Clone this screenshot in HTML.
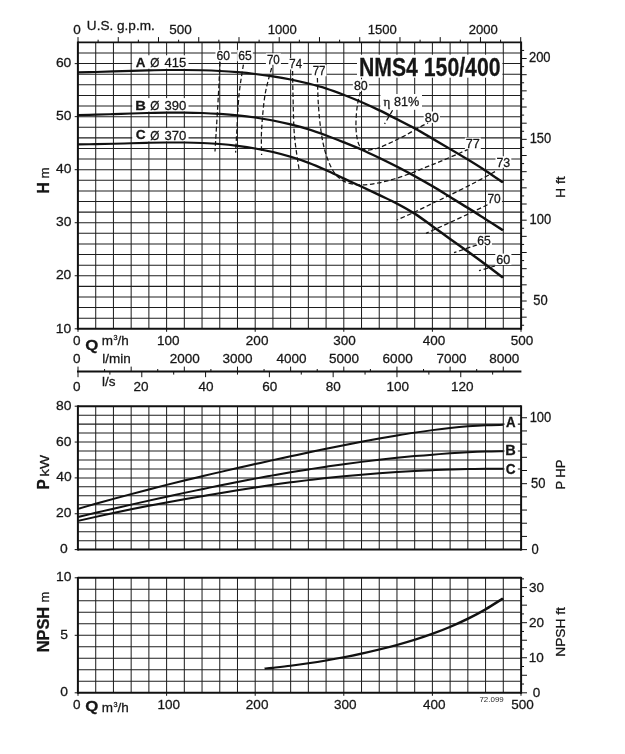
<!DOCTYPE html>
<html lang="en">
<head>
<meta charset="utf-8">
<title>NMS4 150/400</title>
<style>
html,body{margin:0;padding:0;background:#fff;}
body{width:625px;height:754px;overflow:hidden;font-family:"Liberation Sans",sans-serif;}
svg{display:block;font-family:"Liberation Sans",sans-serif;filter:grayscale(1);}
svg text{fill:#161616;stroke:#161616;stroke-width:0.28px;}
</style>
</head>
<body>
<svg width="625" height="754" viewBox="0 0 625 754">
<rect x="0" y="0" width="625" height="754" fill="#ffffff"/>
<line x1="95.72" y1="42.4" x2="95.72" y2="328.8" stroke="#1e1e1e" stroke-width="1.02"/>
<line x1="113.44" y1="42.4" x2="113.44" y2="328.8" stroke="#1e1e1e" stroke-width="1.02"/>
<line x1="131.16" y1="42.4" x2="131.16" y2="328.8" stroke="#1e1e1e" stroke-width="1.02"/>
<line x1="148.88" y1="42.4" x2="148.88" y2="328.8" stroke="#1e1e1e" stroke-width="1.02"/>
<line x1="166.6" y1="42.4" x2="166.6" y2="328.8" stroke="#1e1e1e" stroke-width="1.02"/>
<line x1="184.32" y1="42.4" x2="184.32" y2="328.8" stroke="#1e1e1e" stroke-width="1.02"/>
<line x1="202.04" y1="42.4" x2="202.04" y2="328.8" stroke="#1e1e1e" stroke-width="1.02"/>
<line x1="219.76" y1="42.4" x2="219.76" y2="328.8" stroke="#1e1e1e" stroke-width="1.02"/>
<line x1="237.48" y1="42.4" x2="237.48" y2="328.8" stroke="#1e1e1e" stroke-width="1.02"/>
<line x1="255.2" y1="42.4" x2="255.2" y2="328.8" stroke="#1e1e1e" stroke-width="1.02"/>
<line x1="272.92" y1="42.4" x2="272.92" y2="328.8" stroke="#1e1e1e" stroke-width="1.02"/>
<line x1="290.64" y1="42.4" x2="290.64" y2="328.8" stroke="#1e1e1e" stroke-width="1.02"/>
<line x1="308.36" y1="42.4" x2="308.36" y2="328.8" stroke="#1e1e1e" stroke-width="1.02"/>
<line x1="326.08" y1="42.4" x2="326.08" y2="328.8" stroke="#1e1e1e" stroke-width="1.02"/>
<line x1="343.8" y1="42.4" x2="343.8" y2="328.8" stroke="#1e1e1e" stroke-width="1.02"/>
<line x1="361.52" y1="42.4" x2="361.52" y2="328.8" stroke="#1e1e1e" stroke-width="1.02"/>
<line x1="379.24" y1="42.4" x2="379.24" y2="328.8" stroke="#1e1e1e" stroke-width="1.02"/>
<line x1="396.96" y1="42.4" x2="396.96" y2="328.8" stroke="#1e1e1e" stroke-width="1.02"/>
<line x1="414.68" y1="42.4" x2="414.68" y2="328.8" stroke="#1e1e1e" stroke-width="1.02"/>
<line x1="432.4" y1="42.4" x2="432.4" y2="328.8" stroke="#1e1e1e" stroke-width="1.02"/>
<line x1="450.12" y1="42.4" x2="450.12" y2="328.8" stroke="#1e1e1e" stroke-width="1.02"/>
<line x1="467.84" y1="42.4" x2="467.84" y2="328.8" stroke="#1e1e1e" stroke-width="1.02"/>
<line x1="485.56" y1="42.4" x2="485.56" y2="328.8" stroke="#1e1e1e" stroke-width="1.02"/>
<line x1="503.28" y1="42.4" x2="503.28" y2="328.8" stroke="#1e1e1e" stroke-width="1.02"/>
<line x1="78" y1="53.01" x2="521" y2="53.01" stroke="#1e1e1e" stroke-width="1.02"/>
<line x1="78" y1="63.61" x2="521" y2="63.61" stroke="#1e1e1e" stroke-width="1.02"/>
<line x1="78" y1="74.22" x2="521" y2="74.22" stroke="#1e1e1e" stroke-width="1.02"/>
<line x1="78" y1="84.83" x2="521" y2="84.83" stroke="#1e1e1e" stroke-width="1.02"/>
<line x1="78" y1="95.44" x2="521" y2="95.44" stroke="#1e1e1e" stroke-width="1.02"/>
<line x1="78" y1="106.04" x2="521" y2="106.04" stroke="#1e1e1e" stroke-width="1.02"/>
<line x1="78" y1="116.65" x2="521" y2="116.65" stroke="#1e1e1e" stroke-width="1.02"/>
<line x1="78" y1="127.26" x2="521" y2="127.26" stroke="#1e1e1e" stroke-width="1.02"/>
<line x1="78" y1="137.87" x2="521" y2="137.87" stroke="#1e1e1e" stroke-width="1.02"/>
<line x1="78" y1="148.47" x2="521" y2="148.47" stroke="#1e1e1e" stroke-width="1.02"/>
<line x1="78" y1="159.08" x2="521" y2="159.08" stroke="#1e1e1e" stroke-width="1.02"/>
<line x1="78" y1="169.69" x2="521" y2="169.69" stroke="#1e1e1e" stroke-width="1.02"/>
<line x1="78" y1="180.3" x2="521" y2="180.3" stroke="#1e1e1e" stroke-width="1.02"/>
<line x1="78" y1="190.9" x2="521" y2="190.9" stroke="#1e1e1e" stroke-width="1.02"/>
<line x1="78" y1="201.51" x2="521" y2="201.51" stroke="#1e1e1e" stroke-width="1.02"/>
<line x1="78" y1="212.12" x2="521" y2="212.12" stroke="#1e1e1e" stroke-width="1.02"/>
<line x1="78" y1="222.73" x2="521" y2="222.73" stroke="#1e1e1e" stroke-width="1.02"/>
<line x1="78" y1="233.33" x2="521" y2="233.33" stroke="#1e1e1e" stroke-width="1.02"/>
<line x1="78" y1="243.94" x2="521" y2="243.94" stroke="#1e1e1e" stroke-width="1.02"/>
<line x1="78" y1="254.55" x2="521" y2="254.55" stroke="#1e1e1e" stroke-width="1.02"/>
<line x1="78" y1="265.16" x2="521" y2="265.16" stroke="#1e1e1e" stroke-width="1.02"/>
<line x1="78" y1="275.76" x2="521" y2="275.76" stroke="#1e1e1e" stroke-width="1.02"/>
<line x1="78" y1="286.37" x2="521" y2="286.37" stroke="#1e1e1e" stroke-width="1.02"/>
<line x1="78" y1="296.98" x2="521" y2="296.98" stroke="#1e1e1e" stroke-width="1.02"/>
<line x1="78" y1="307.59" x2="521" y2="307.59" stroke="#1e1e1e" stroke-width="1.02"/>
<line x1="78" y1="318.19" x2="521" y2="318.19" stroke="#1e1e1e" stroke-width="1.02"/>
<rect x="357" y="54.7" width="145.4" height="23" fill="#fff"/>
<rect x="215.5" y="49.9" width="15.6" height="11.4" fill="#fff"/>
<rect x="237.2" y="49.9" width="15.6" height="11.4" fill="#fff"/>
<rect x="265.9" y="53.4" width="15" height="11.4" fill="#fff"/>
<rect x="288.3" y="58.1" width="15" height="11.4" fill="#fff"/>
<rect x="311.7" y="64.9" width="14.8" height="11.4" fill="#fff"/>
<rect x="352.9" y="79.3" width="16" height="11.4" fill="#fff"/>
<rect x="423.7" y="111.5" width="16.2" height="11.4" fill="#fff"/>
<rect x="464.9" y="137.6" width="15.9" height="11.4" fill="#fff"/>
<rect x="495.5" y="156.3" width="15.8" height="11.4" fill="#fff"/>
<rect x="486.5" y="192.4" width="15.4" height="11.4" fill="#fff"/>
<rect x="476.3" y="234.3" width="15.6" height="11.4" fill="#fff"/>
<rect x="495.3" y="253.6" width="16.1" height="11.4" fill="#fff"/>
<rect x="380.4" y="94" width="41.6" height="15.8" fill="#fff"/>
<path d="M220 62C219.73 67.5 219.07 82.83 218.4 95C217.73 107.17 216.57 125.58 216 135C215.43 144.42 215.17 148.75 215 151.5" fill="none" stroke="#141414" stroke-width="1.25" stroke-linecap="butt" stroke-dasharray="4.6 2.6"/>
<path d="M243.4 64.6C242.67 69.67 240.13 83.27 239 95C237.87 106.73 237.17 125.4 236.6 135C236.03 144.6 235.77 149.67 235.6 152.6" fill="none" stroke="#141414" stroke-width="1.25" stroke-linecap="butt" stroke-dasharray="4.6 2.6"/>
<path d="M271.6 68C270.5 72.5 266.67 84.67 265 95C263.33 105.33 262.17 120 261.6 130C261.03 140 261.6 150.83 261.6 155" fill="none" stroke="#141414" stroke-width="1.25" stroke-linecap="butt" stroke-dasharray="4.6 2.6"/>
<path d="M292.6 71C292.67 75 292.7 84.33 293 95C293.3 105.67 293.4 122.67 294.4 135C295.4 147.33 298.23 163.33 299 169" fill="none" stroke="#141414" stroke-width="1.25" stroke-linecap="butt" stroke-dasharray="4.6 2.6"/>
<path d="M317.4 78C317.57 82.5 317.8 96.17 318.4 105C319 113.83 319.9 123.33 321 131C322.1 138.67 323.33 145 325 151C326.67 157 328.83 162.67 331 167C333.17 171.33 335.17 174.33 338 177C340.83 179.67 344 181.67 348 183C352 184.33 357 185 362 185C367 185 372.67 184 378 183C383.33 182 388.67 180.57 394 179C399.33 177.43 404.67 175.57 410 173.6C415.33 171.63 420.83 169.27 426 167.2C431.17 165.13 435.33 163.57 441 161.2C446.67 158.83 455.58 154.93 460 153C464.42 151.07 466.25 150.17 467.5 149.6" fill="none" stroke="#141414" stroke-width="1.25" stroke-linecap="butt" stroke-dasharray="4.6 2.6"/>
<path d="M360.4 92C359.9 94.17 358.13 100.17 357.4 105C356.67 109.83 356.13 116 356 121C355.87 126 356 130.83 356.6 135C357.2 139.17 358.03 143.5 359.6 146C361.17 148.5 362.93 149.67 366 150C369.07 150.33 373.67 149.33 378 148C382.33 146.67 387.33 144.17 392 142C396.67 139.83 401.33 137.5 406 135C410.67 132.5 416.33 129 420 127C423.67 125 426.67 123.67 428 123" fill="none" stroke="#141414" stroke-width="1.25" stroke-linecap="butt" stroke-dasharray="4.6 2.6"/>
<path d="M392.6 110.2C391.27 112.5 385.93 121.7 384.6 124" fill="none" stroke="#141414" stroke-width="1.25" stroke-linecap="butt" stroke-dasharray="4.6 2.6"/>
<path d="M495 171.6C491.5 173.5 481.48 179.1 474 183C466.52 186.9 457.03 191.6 450.1 195C443.17 198.4 438.3 200.57 432.4 203.4C426.5 206.23 420.6 209.23 414.7 212C408.8 214.77 399.95 218.67 397 220" fill="none" stroke="#141414" stroke-width="1.25" stroke-linecap="butt" stroke-dasharray="4.6 2.6"/>
<path d="M487.5 204.8C484.58 206.2 476.23 210.25 470 213.2C463.77 216.15 456.37 219.62 450.1 222.5C443.83 225.38 436.42 228.68 432.4 230.5C428.38 232.32 427.07 232.92 426 233.4" fill="none" stroke="#141414" stroke-width="1.25" stroke-linecap="butt" stroke-dasharray="4.6 2.6"/>
<path d="M477 245C473.17 246.27 457.83 251.33 454 252.6" fill="none" stroke="#141414" stroke-width="1.25" stroke-linecap="butt" stroke-dasharray="4.6 2.6"/>
<path d="M495 266C492.33 266.77 481.67 269.83 479 270.6" fill="none" stroke="#141414" stroke-width="1.25" stroke-linecap="butt" stroke-dasharray="4.6 2.6"/>
<rect x="132.2" y="55.3" width="56.3" height="13.4" fill="#fff"/>
<text transform="translate(135.86 66.7) scale(0.9877 1)" font-size="13.6" font-weight="bold">A</text>
<text transform="translate(150.36 67.2) scale(0.8852 1)" font-size="13.3" font-weight="normal">&#216;</text>
<text transform="translate(164.61 67.2) scale(0.9744 1)" font-size="13.3" font-weight="normal">415</text>
<rect x="132.2" y="98.1" width="56.3" height="13.4" fill="#fff"/>
<text transform="translate(135.2 109.5) scale(1.0849 1)" font-size="13.6" font-weight="bold">B</text>
<text transform="translate(150.36 110) scale(0.8852 1)" font-size="13.3" font-weight="normal">&#216;</text>
<text transform="translate(164.41 110) scale(0.9820 1)" font-size="13.3" font-weight="normal">390</text>
<rect x="132.2" y="128" width="56.3" height="13.4" fill="#fff"/>
<text transform="translate(135.65 139.4) scale(1.0103 1)" font-size="13.6" font-weight="bold">C</text>
<text transform="translate(150.36 139.9) scale(0.8852 1)" font-size="13.3" font-weight="normal">&#216;</text>
<text transform="translate(164.41 139.9) scale(0.9820 1)" font-size="13.3" font-weight="normal">370</text>
<g transform="scale(1.4 1)"><path d="M55.71 72.38C57.82 72.31 64.15 72.11 68.37 71.95C72.59 71.79 76.81 71.61 81.03 71.42C85.25 71.24 89.47 71.02 93.69 70.84C97.9 70.66 102.12 70.5 106.34 70.36C110.56 70.23 114.78 70.11 119 70.05C123.22 69.98 127.44 69.96 131.66 69.99C135.88 70.03 140.1 70.1 144.31 70.26C148.53 70.42 152.75 70.63 156.97 70.95C161.19 71.26 165.41 71.66 169.63 72.17C173.85 72.67 178.07 73.26 182.29 73.97C186.5 74.67 190.72 75.47 194.94 76.4C199.16 77.34 203.38 78.39 207.6 79.58C211.82 80.77 216.04 82.08 220.26 83.55C224.48 85.03 228.7 86.54 232.91 88.42C237.13 90.3 241.35 92.56 245.57 94.83C249.79 97.11 254.01 99.52 258.23 102.09C262.45 104.66 266.67 107.39 270.89 110.25C275.1 113.1 279.32 116.17 283.54 119.2C287.76 122.22 291.98 125.18 296.2 128.41C300.42 131.64 304.64 135.16 308.86 138.58C313.08 142.01 317.3 145.47 321.51 148.96C325.73 152.46 329.95 155.93 334.17 159.55C338.39 163.17 342.63 166.84 346.83 170.68C351.03 174.52 357.27 180.61 359.36 182.59" fill="none" stroke="#111" stroke-width="2.15" stroke-linecap="butt"/></g>
<g transform="scale(1.4 1)"><path d="M55.71 115.17C57.82 115.09 64.15 114.87 68.37 114.69C72.59 114.52 76.81 114.31 81.03 114.11C85.25 113.91 89.47 113.66 93.69 113.48C97.9 113.29 102.12 113.13 106.34 113C110.56 112.87 114.78 112.74 119 112.68C123.22 112.62 127.44 112.58 131.66 112.63C135.88 112.68 140.1 112.79 144.31 113C148.53 113.21 152.75 113.51 156.97 113.9C161.19 114.29 165.41 114.73 169.63 115.33C173.85 115.93 178.07 116.64 182.29 117.5C186.5 118.37 190.72 119.37 194.94 120.52C199.16 121.67 203.38 122.93 207.6 124.39C211.82 125.84 216.04 127.43 220.26 129.26C224.48 131.09 228.7 133.18 232.91 135.35C237.13 137.52 241.35 139.91 245.57 142.29C249.79 144.66 254.01 147 258.23 149.6C262.45 152.19 266.67 155.02 270.89 157.86C275.1 160.7 279.32 163.61 283.54 166.65C287.76 169.69 291.98 172.82 296.2 176.08C300.42 179.34 304.64 182.71 308.86 186.19C313.08 189.68 317.3 193.38 321.51 197C325.73 200.62 329.95 204.21 334.17 207.91C338.39 211.61 342.63 215.44 346.83 219.19C351.03 222.94 357.27 228.55 359.36 230.42" fill="none" stroke="#111" stroke-width="2.15" stroke-linecap="butt"/></g>
<g transform="scale(1.4 1)"><path d="M55.71 144.35C57.82 144.32 64.15 144.24 68.37 144.14C72.59 144.04 76.81 143.92 81.03 143.77C85.25 143.62 89.47 143.41 93.69 143.24C97.9 143.07 102.12 142.89 106.34 142.76C110.56 142.64 114.78 142.54 119 142.5C123.22 142.46 127.44 142.46 131.66 142.55C135.88 142.64 140.1 142.78 144.31 143.03C148.53 143.28 152.75 143.57 156.97 144.04C161.19 144.5 165.41 145.1 169.63 145.84C173.85 146.57 178.07 147.4 182.29 148.43C186.5 149.46 190.72 150.64 194.94 152.03C199.16 153.43 203.38 155.02 207.6 156.8C211.82 158.58 216.04 160.5 220.26 162.73C224.48 164.97 228.7 167.57 232.91 170.2C237.13 172.83 241.35 175.77 245.57 178.51C249.79 181.26 254.01 183.93 258.23 186.67C262.45 189.42 266.67 192.18 270.89 194.99C275.1 197.79 279.32 200.41 283.54 203.51C287.76 206.62 291.98 209.85 296.2 213.63C300.42 217.41 304.64 221.96 308.86 226.18C313.08 230.4 317.3 234.73 321.51 238.95C325.73 243.16 329.95 247.24 334.17 251.5C338.39 255.75 342.63 260.1 346.83 264.47C351.03 268.84 357.27 275.51 359.36 277.71" fill="none" stroke="#111" stroke-width="2.15" stroke-linecap="butt"/></g>
<text transform="translate(216.49 60.1) scale(0.9625 1)" font-size="12.6" font-weight="normal">60</text>
<text transform="translate(238.19 60.1) scale(0.9648 1)" font-size="12.6" font-weight="normal">65</text>
<text transform="translate(266.89 63.6) scale(0.9181 1)" font-size="12.6" font-weight="normal">70</text>
<text transform="translate(289.3 68.3) scale(0.9092 1)" font-size="12.6" font-weight="normal">74</text>
<text transform="translate(312.7 75.1) scale(0.9138 1)" font-size="12.6" font-weight="normal">77</text>
<text transform="translate(353.97 89.5) scale(0.9863 1)" font-size="12.6" font-weight="normal">80</text>
<text transform="translate(424.76 121.7) scale(1.0017 1)" font-size="12.6" font-weight="normal">80</text>
<text x="465.84" y="147.8" font-size="12.6" font-weight="normal">77</text>
<text transform="translate(496.45 166.5) scale(0.9852 1)" font-size="12.6" font-weight="normal">73</text>
<text transform="translate(487.47 202.6) scale(0.9493 1)" font-size="12.6" font-weight="normal">70</text>
<text transform="translate(477.29 244.5) scale(0.9648 1)" font-size="12.6" font-weight="normal">65</text>
<text transform="translate(496.27 263.8) scale(1.0013 1)" font-size="12.6" font-weight="normal">60</text>
<text x="383.5" y="105.8" font-size="13" font-family="Liberation Serif">&#951;</text>
<text transform="translate(393.96 105.8) scale(1.0032 1)" font-size="12.6" font-weight="normal">81%</text>
<text transform="translate(358.97 75.9) scale(0.8292 1)" font-size="25.6" font-weight="bold">NMS4 150/400</text>
<line x1="77.9" y1="41.5" x2="77.9" y2="329.8" stroke="#111" stroke-width="2"/>
<line x1="521.1" y1="41.5" x2="521.1" y2="329.8" stroke="#111" stroke-width="2"/>
<line x1="78" y1="42.4" x2="521" y2="42.4" stroke="#111" stroke-width="1.9"/>
<line x1="78" y1="328.8" x2="521" y2="328.8" stroke="#111" stroke-width="2"/>
<line x1="78" y1="42.4" x2="78" y2="37.1" stroke="#111" stroke-width="1"/>
<line x1="98.12" y1="42.4" x2="98.12" y2="39.7" stroke="#111" stroke-width="1"/>
<line x1="118.25" y1="42.4" x2="118.25" y2="37.1" stroke="#111" stroke-width="1"/>
<line x1="138.37" y1="42.4" x2="138.37" y2="39.7" stroke="#111" stroke-width="1"/>
<line x1="158.49" y1="42.4" x2="158.49" y2="37.1" stroke="#111" stroke-width="1"/>
<line x1="178.62" y1="42.4" x2="178.62" y2="39.7" stroke="#111" stroke-width="1"/>
<line x1="198.74" y1="42.4" x2="198.74" y2="37.1" stroke="#111" stroke-width="1"/>
<line x1="218.86" y1="42.4" x2="218.86" y2="39.7" stroke="#111" stroke-width="1"/>
<line x1="238.99" y1="42.4" x2="238.99" y2="37.1" stroke="#111" stroke-width="1"/>
<line x1="259.11" y1="42.4" x2="259.11" y2="39.7" stroke="#111" stroke-width="1"/>
<line x1="279.23" y1="42.4" x2="279.23" y2="37.1" stroke="#111" stroke-width="1"/>
<line x1="299.36" y1="42.4" x2="299.36" y2="39.7" stroke="#111" stroke-width="1"/>
<line x1="319.48" y1="42.4" x2="319.48" y2="37.1" stroke="#111" stroke-width="1"/>
<line x1="339.6" y1="42.4" x2="339.6" y2="39.7" stroke="#111" stroke-width="1"/>
<line x1="359.73" y1="42.4" x2="359.73" y2="37.1" stroke="#111" stroke-width="1"/>
<line x1="379.85" y1="42.4" x2="379.85" y2="39.7" stroke="#111" stroke-width="1"/>
<line x1="399.97" y1="42.4" x2="399.97" y2="37.1" stroke="#111" stroke-width="1"/>
<line x1="420.1" y1="42.4" x2="420.1" y2="39.7" stroke="#111" stroke-width="1"/>
<line x1="440.22" y1="42.4" x2="440.22" y2="37.1" stroke="#111" stroke-width="1"/>
<line x1="460.34" y1="42.4" x2="460.34" y2="39.7" stroke="#111" stroke-width="1"/>
<line x1="480.46" y1="42.4" x2="480.46" y2="37.1" stroke="#111" stroke-width="1"/>
<line x1="500.59" y1="42.4" x2="500.59" y2="39.7" stroke="#111" stroke-width="1"/>
<line x1="520.71" y1="42.4" x2="520.71" y2="37.1" stroke="#111" stroke-width="1"/>
<text x="73.14" y="33.8" font-size="13.5" font-weight="normal">0</text>
<text x="169.13" y="33.8" font-size="13.5" font-weight="normal">500</text>
<text transform="translate(267.8 33.8) scale(0.9700 1)" font-size="13.5" font-weight="normal">1000</text>
<text transform="translate(367.8 33.8) scale(0.9700 1)" font-size="13.5" font-weight="normal">1500</text>
<text transform="translate(468.77 33.8) scale(0.9700 1)" font-size="13.5" font-weight="normal">2000</text>
<text transform="translate(86.85 30) scale(1.0065 1)" font-size="13.5" font-weight="normal">U.S. g.p.m.</text>
<line x1="74.7" y1="328.8" x2="78" y2="328.8" stroke="#111" stroke-width="1"/>
<text transform="translate(55.72 332.7) scale(1.0300 1)" font-size="13.5" font-weight="normal">10</text>
<line x1="74.7" y1="275.76" x2="78" y2="275.76" stroke="#111" stroke-width="1"/>
<text transform="translate(55.9 279.48) scale(1.0300 1)" font-size="13.5" font-weight="normal">20</text>
<line x1="74.7" y1="222.73" x2="78" y2="222.73" stroke="#111" stroke-width="1"/>
<text transform="translate(55.98 226.26) scale(1.0300 1)" font-size="13.5" font-weight="normal">30</text>
<line x1="74.7" y1="169.69" x2="78" y2="169.69" stroke="#111" stroke-width="1"/>
<text transform="translate(56.09 173.04) scale(1.0300 1)" font-size="13.5" font-weight="normal">40</text>
<line x1="74.7" y1="116.65" x2="78" y2="116.65" stroke="#111" stroke-width="1"/>
<text transform="translate(55.97 119.82) scale(1.0300 1)" font-size="13.5" font-weight="normal">50</text>
<line x1="74.7" y1="63.61" x2="78" y2="63.61" stroke="#111" stroke-width="1"/>
<text transform="translate(55.9 66.6) scale(1.0300 1)" font-size="13.5" font-weight="normal">60</text>
<text transform="translate(48.8 193.56) rotate(-90) scale(0.9491 1)" font-size="16.5" font-weight="bold">H</text>
<text transform="translate(48.8 178.51) rotate(-90) scale(0.9947 1)" font-size="13.5" font-weight="normal">m</text>
<line x1="521" y1="325.26" x2="524.1" y2="325.26" stroke="#111" stroke-width="1"/>
<line x1="521" y1="317.17" x2="526.7" y2="317.17" stroke="#111" stroke-width="1"/>
<line x1="521" y1="309.09" x2="524.1" y2="309.09" stroke="#111" stroke-width="1"/>
<line x1="521" y1="301.01" x2="526.7" y2="301.01" stroke="#111" stroke-width="1"/>
<line x1="521" y1="292.93" x2="524.1" y2="292.93" stroke="#111" stroke-width="1"/>
<line x1="521" y1="284.84" x2="526.7" y2="284.84" stroke="#111" stroke-width="1"/>
<line x1="521" y1="276.76" x2="524.1" y2="276.76" stroke="#111" stroke-width="1"/>
<line x1="521" y1="268.68" x2="526.7" y2="268.68" stroke="#111" stroke-width="1"/>
<line x1="521" y1="260.59" x2="524.1" y2="260.59" stroke="#111" stroke-width="1"/>
<line x1="521" y1="252.51" x2="526.7" y2="252.51" stroke="#111" stroke-width="1"/>
<line x1="521" y1="244.43" x2="524.1" y2="244.43" stroke="#111" stroke-width="1"/>
<line x1="521" y1="236.35" x2="526.7" y2="236.35" stroke="#111" stroke-width="1"/>
<line x1="521" y1="228.26" x2="524.1" y2="228.26" stroke="#111" stroke-width="1"/>
<line x1="521" y1="220.18" x2="526.7" y2="220.18" stroke="#111" stroke-width="1"/>
<line x1="521" y1="212.1" x2="524.1" y2="212.1" stroke="#111" stroke-width="1"/>
<line x1="521" y1="204.01" x2="526.7" y2="204.01" stroke="#111" stroke-width="1"/>
<line x1="521" y1="195.93" x2="524.1" y2="195.93" stroke="#111" stroke-width="1"/>
<line x1="521" y1="187.85" x2="526.7" y2="187.85" stroke="#111" stroke-width="1"/>
<line x1="521" y1="179.77" x2="524.1" y2="179.77" stroke="#111" stroke-width="1"/>
<line x1="521" y1="171.68" x2="526.7" y2="171.68" stroke="#111" stroke-width="1"/>
<line x1="521" y1="163.6" x2="524.1" y2="163.6" stroke="#111" stroke-width="1"/>
<line x1="521" y1="155.52" x2="526.7" y2="155.52" stroke="#111" stroke-width="1"/>
<line x1="521" y1="147.43" x2="524.1" y2="147.43" stroke="#111" stroke-width="1"/>
<line x1="521" y1="139.35" x2="526.7" y2="139.35" stroke="#111" stroke-width="1"/>
<line x1="521" y1="131.27" x2="524.1" y2="131.27" stroke="#111" stroke-width="1"/>
<line x1="521" y1="123.19" x2="526.7" y2="123.19" stroke="#111" stroke-width="1"/>
<line x1="521" y1="115.1" x2="524.1" y2="115.1" stroke="#111" stroke-width="1"/>
<line x1="521" y1="107.02" x2="526.7" y2="107.02" stroke="#111" stroke-width="1"/>
<line x1="521" y1="98.94" x2="524.1" y2="98.94" stroke="#111" stroke-width="1"/>
<line x1="521" y1="90.85" x2="526.7" y2="90.85" stroke="#111" stroke-width="1"/>
<line x1="521" y1="82.77" x2="524.1" y2="82.77" stroke="#111" stroke-width="1"/>
<line x1="521" y1="74.69" x2="526.7" y2="74.69" stroke="#111" stroke-width="1"/>
<line x1="521" y1="66.61" x2="524.1" y2="66.61" stroke="#111" stroke-width="1"/>
<line x1="521" y1="58.52" x2="526.7" y2="58.52" stroke="#111" stroke-width="1"/>
<line x1="521" y1="50.44" x2="524.1" y2="50.44" stroke="#111" stroke-width="1"/>
<text transform="translate(533.28 304.76) scale(0.9400 1)" font-size="13.8" font-weight="normal">50</text>
<text transform="translate(529.53 223.93) scale(0.9400 1)" font-size="13.8" font-weight="normal">100</text>
<text transform="translate(529.63 143.1) scale(0.9400 1)" font-size="13.8" font-weight="normal">150</text>
<text transform="translate(528.95 62.27) scale(0.9400 1)" font-size="13.8" font-weight="normal">200</text>
<text transform="translate(564.8 198.05) rotate(-90) scale(1.0601 1)" font-size="13.2" font-weight="normal">H ft</text>
<line x1="78" y1="328.8" x2="78" y2="331.8" stroke="#111" stroke-width="1"/>
<text x="72.94" y="345.4" font-size="13.5" font-weight="normal">0</text>
<line x1="166.6" y1="328.8" x2="166.6" y2="331.8" stroke="#111" stroke-width="1"/>
<text x="156.99" y="345.4" font-size="13.5" font-weight="normal">100</text>
<line x1="255.2" y1="328.8" x2="255.2" y2="331.8" stroke="#111" stroke-width="1"/>
<text x="245.86" y="345.4" font-size="13.5" font-weight="normal">200</text>
<line x1="343.8" y1="328.8" x2="343.8" y2="331.8" stroke="#111" stroke-width="1"/>
<text x="333.24" y="345.4" font-size="13.5" font-weight="normal">300</text>
<line x1="432.4" y1="328.8" x2="432.4" y2="331.8" stroke="#111" stroke-width="1"/>
<text x="422.65" y="345.4" font-size="13.5" font-weight="normal">400</text>
<line x1="521" y1="328.8" x2="521" y2="331.8" stroke="#111" stroke-width="1"/>
<text x="510.73" y="345.4" font-size="13.5" font-weight="normal">500</text>
<text transform="translate(85.23 350.2) scale(1.1223 1)" font-size="15" font-weight="bold">Q</text>
<text x="101.79" y="345.4" font-size="13.5" font-weight="normal">m</text>
<text x="113.4" y="340.2" font-size="7.3">3</text>
<text x="117.6" y="345.4" font-size="13.5" font-weight="normal">/h</text>
<text x="102.29" y="362.6" font-size="13.5" font-weight="normal">l/min</text>
<text x="72.94" y="362.6" font-size="13.5" font-weight="normal">0</text>
<text x="169.71" y="362.6" font-size="13.5" font-weight="normal">2000</text>
<text x="222.6" y="362.6" font-size="13.5" font-weight="normal">3000</text>
<text x="276.5" y="362.6" font-size="13.5" font-weight="normal">4000</text>
<text x="328.98" y="362.6" font-size="13.5" font-weight="normal">5000</text>
<text x="382.61" y="362.6" font-size="13.5" font-weight="normal">6000</text>
<text x="436.4" y="362.6" font-size="13.5" font-weight="normal">7000</text>
<text x="489.26" y="362.6" font-size="13.5" font-weight="normal">8000</text>
<line x1="77" y1="371.6" x2="521.4" y2="371.6" stroke="#111" stroke-width="2"/>
<line x1="78" y1="371.6" x2="78" y2="366.6" stroke="#111" stroke-width="1"/>
<line x1="104.58" y1="371.6" x2="104.58" y2="369" stroke="#111" stroke-width="1"/>
<line x1="131.16" y1="371.6" x2="131.16" y2="366.6" stroke="#111" stroke-width="1"/>
<line x1="157.74" y1="371.6" x2="157.74" y2="369" stroke="#111" stroke-width="1"/>
<line x1="184.32" y1="371.6" x2="184.32" y2="366.6" stroke="#111" stroke-width="1"/>
<line x1="210.9" y1="371.6" x2="210.9" y2="369" stroke="#111" stroke-width="1"/>
<line x1="237.48" y1="371.6" x2="237.48" y2="366.6" stroke="#111" stroke-width="1"/>
<line x1="264.06" y1="371.6" x2="264.06" y2="369" stroke="#111" stroke-width="1"/>
<line x1="290.64" y1="371.6" x2="290.64" y2="366.6" stroke="#111" stroke-width="1"/>
<line x1="317.22" y1="371.6" x2="317.22" y2="369" stroke="#111" stroke-width="1"/>
<line x1="343.8" y1="371.6" x2="343.8" y2="366.6" stroke="#111" stroke-width="1"/>
<line x1="370.38" y1="371.6" x2="370.38" y2="369" stroke="#111" stroke-width="1"/>
<line x1="396.96" y1="371.6" x2="396.96" y2="366.6" stroke="#111" stroke-width="1"/>
<line x1="423.54" y1="371.6" x2="423.54" y2="369" stroke="#111" stroke-width="1"/>
<line x1="450.12" y1="371.6" x2="450.12" y2="366.6" stroke="#111" stroke-width="1"/>
<line x1="476.7" y1="371.6" x2="476.7" y2="369" stroke="#111" stroke-width="1"/>
<line x1="503.28" y1="371.6" x2="503.28" y2="366.6" stroke="#111" stroke-width="1"/>
<line x1="78" y1="371.6" x2="78" y2="377.2" stroke="#111" stroke-width="1"/>
<line x1="109.9" y1="371.6" x2="109.9" y2="374.6" stroke="#111" stroke-width="1"/>
<line x1="141.79" y1="371.6" x2="141.79" y2="377.2" stroke="#111" stroke-width="1"/>
<line x1="173.69" y1="371.6" x2="173.69" y2="374.6" stroke="#111" stroke-width="1"/>
<line x1="205.58" y1="371.6" x2="205.58" y2="377.2" stroke="#111" stroke-width="1"/>
<line x1="237.48" y1="371.6" x2="237.48" y2="374.6" stroke="#111" stroke-width="1"/>
<line x1="269.38" y1="371.6" x2="269.38" y2="377.2" stroke="#111" stroke-width="1"/>
<line x1="301.27" y1="371.6" x2="301.27" y2="374.6" stroke="#111" stroke-width="1"/>
<line x1="333.17" y1="371.6" x2="333.17" y2="377.2" stroke="#111" stroke-width="1"/>
<line x1="365.06" y1="371.6" x2="365.06" y2="374.6" stroke="#111" stroke-width="1"/>
<line x1="396.96" y1="371.6" x2="396.96" y2="377.2" stroke="#111" stroke-width="1"/>
<line x1="428.86" y1="371.6" x2="428.86" y2="374.6" stroke="#111" stroke-width="1"/>
<line x1="460.75" y1="371.6" x2="460.75" y2="377.2" stroke="#111" stroke-width="1"/>
<line x1="492.65" y1="371.6" x2="492.65" y2="374.6" stroke="#111" stroke-width="1"/>
<text x="72.94" y="390.7" font-size="13.5" font-weight="normal">0</text>
<text x="133.62" y="390.7" font-size="13.5" font-weight="normal">20</text>
<text x="198.51" y="390.7" font-size="13.5" font-weight="normal">40</text>
<text x="262.32" y="390.7" font-size="13.5" font-weight="normal">60</text>
<text x="325.87" y="390.7" font-size="13.5" font-weight="normal">80</text>
<text x="386.59" y="390.7" font-size="13.5" font-weight="normal">100</text>
<text x="451.09" y="390.7" font-size="13.5" font-weight="normal">120</text>
<text x="102.09" y="386.3" font-size="13.5" font-weight="normal">l/s</text>
<line x1="95.72" y1="406.2" x2="95.72" y2="549.6" stroke="#1e1e1e" stroke-width="1.02"/>
<line x1="113.44" y1="406.2" x2="113.44" y2="549.6" stroke="#1e1e1e" stroke-width="1.02"/>
<line x1="131.16" y1="406.2" x2="131.16" y2="549.6" stroke="#1e1e1e" stroke-width="1.02"/>
<line x1="148.88" y1="406.2" x2="148.88" y2="549.6" stroke="#1e1e1e" stroke-width="1.02"/>
<line x1="166.6" y1="406.2" x2="166.6" y2="549.6" stroke="#1e1e1e" stroke-width="1.02"/>
<line x1="184.32" y1="406.2" x2="184.32" y2="549.6" stroke="#1e1e1e" stroke-width="1.02"/>
<line x1="202.04" y1="406.2" x2="202.04" y2="549.6" stroke="#1e1e1e" stroke-width="1.02"/>
<line x1="219.76" y1="406.2" x2="219.76" y2="549.6" stroke="#1e1e1e" stroke-width="1.02"/>
<line x1="237.48" y1="406.2" x2="237.48" y2="549.6" stroke="#1e1e1e" stroke-width="1.02"/>
<line x1="255.2" y1="406.2" x2="255.2" y2="549.6" stroke="#1e1e1e" stroke-width="1.02"/>
<line x1="272.92" y1="406.2" x2="272.92" y2="549.6" stroke="#1e1e1e" stroke-width="1.02"/>
<line x1="290.64" y1="406.2" x2="290.64" y2="549.6" stroke="#1e1e1e" stroke-width="1.02"/>
<line x1="308.36" y1="406.2" x2="308.36" y2="549.6" stroke="#1e1e1e" stroke-width="1.02"/>
<line x1="326.08" y1="406.2" x2="326.08" y2="549.6" stroke="#1e1e1e" stroke-width="1.02"/>
<line x1="343.8" y1="406.2" x2="343.8" y2="549.6" stroke="#1e1e1e" stroke-width="1.02"/>
<line x1="361.52" y1="406.2" x2="361.52" y2="549.6" stroke="#1e1e1e" stroke-width="1.02"/>
<line x1="379.24" y1="406.2" x2="379.24" y2="549.6" stroke="#1e1e1e" stroke-width="1.02"/>
<line x1="396.96" y1="406.2" x2="396.96" y2="549.6" stroke="#1e1e1e" stroke-width="1.02"/>
<line x1="414.68" y1="406.2" x2="414.68" y2="549.6" stroke="#1e1e1e" stroke-width="1.02"/>
<line x1="432.4" y1="406.2" x2="432.4" y2="549.6" stroke="#1e1e1e" stroke-width="1.02"/>
<line x1="450.12" y1="406.2" x2="450.12" y2="549.6" stroke="#1e1e1e" stroke-width="1.02"/>
<line x1="467.84" y1="406.2" x2="467.84" y2="549.6" stroke="#1e1e1e" stroke-width="1.02"/>
<line x1="485.56" y1="406.2" x2="485.56" y2="549.6" stroke="#1e1e1e" stroke-width="1.02"/>
<line x1="503.28" y1="406.2" x2="503.28" y2="549.6" stroke="#1e1e1e" stroke-width="1.02"/>
<line x1="78" y1="415.16" x2="521" y2="415.16" stroke="#1e1e1e" stroke-width="1.02"/>
<line x1="78" y1="424.12" x2="521" y2="424.12" stroke="#1e1e1e" stroke-width="1.02"/>
<line x1="78" y1="433.09" x2="521" y2="433.09" stroke="#1e1e1e" stroke-width="1.02"/>
<line x1="78" y1="442.05" x2="521" y2="442.05" stroke="#1e1e1e" stroke-width="1.02"/>
<line x1="78" y1="451.01" x2="521" y2="451.01" stroke="#1e1e1e" stroke-width="1.02"/>
<line x1="78" y1="459.98" x2="521" y2="459.98" stroke="#1e1e1e" stroke-width="1.02"/>
<line x1="78" y1="468.94" x2="521" y2="468.94" stroke="#1e1e1e" stroke-width="1.02"/>
<line x1="78" y1="477.9" x2="521" y2="477.9" stroke="#1e1e1e" stroke-width="1.02"/>
<line x1="78" y1="486.86" x2="521" y2="486.86" stroke="#1e1e1e" stroke-width="1.02"/>
<line x1="78" y1="495.83" x2="521" y2="495.83" stroke="#1e1e1e" stroke-width="1.02"/>
<line x1="78" y1="504.79" x2="521" y2="504.79" stroke="#1e1e1e" stroke-width="1.02"/>
<line x1="78" y1="513.75" x2="521" y2="513.75" stroke="#1e1e1e" stroke-width="1.02"/>
<line x1="78" y1="522.71" x2="521" y2="522.71" stroke="#1e1e1e" stroke-width="1.02"/>
<line x1="78" y1="531.67" x2="521" y2="531.67" stroke="#1e1e1e" stroke-width="1.02"/>
<line x1="78" y1="540.64" x2="521" y2="540.64" stroke="#1e1e1e" stroke-width="1.02"/>
<rect x="504.6" y="415.7" width="13.2" height="13.2" fill="#fff"/>
<rect x="504.6" y="444.1" width="13.2" height="13.2" fill="#fff"/>
<rect x="504.6" y="462.6" width="13.2" height="13.2" fill="#fff"/>
<g transform="scale(1.3 1)"><path d="M60 508.9C62.27 508.05 69.09 505.47 73.63 503.8C78.17 502.12 82.72 500.47 87.26 498.85C91.81 497.23 96.35 495.64 100.89 494.07C105.44 492.5 109.98 490.96 114.52 489.43C119.07 487.91 123.61 486.4 128.15 484.92C132.7 483.44 137.24 481.99 141.78 480.55C146.33 479.1 150.87 477.67 155.42 476.27C159.96 474.86 164.5 473.48 169.05 472.11C173.59 470.74 178.13 469.38 182.68 468.04C187.22 466.7 191.76 465.38 196.31 464.07C200.85 462.75 205.39 461.44 209.94 460.14C214.48 458.85 219.03 457.58 223.57 456.31C228.11 455.04 232.66 453.78 237.2 452.53C241.74 451.28 246.29 450.04 250.83 448.82C255.37 447.61 259.92 446.41 264.46 445.24C269.01 444.07 273.55 442.91 278.09 441.78C282.64 440.66 287.18 439.56 291.72 438.51C296.27 437.45 300.81 436.43 305.35 435.44C309.9 434.46 314.44 433.5 318.98 432.61C323.53 431.73 328.07 430.89 332.62 430.12C337.16 429.36 341.7 428.64 346.25 428.01C350.79 427.38 355.33 426.82 359.88 426.36C364.42 425.9 368.99 425.49 373.51 425.23C378.03 424.98 384.75 424.89 387 424.82" fill="none" stroke="#111" stroke-width="2" stroke-linecap="butt"/></g>
<g transform="scale(1.3 1)"><path d="M60 517.02C62.27 516.32 69.09 514.21 73.63 512.82C78.17 511.44 82.72 510.05 87.26 508.69C91.81 507.32 96.35 505.96 100.89 504.62C105.44 503.28 109.98 501.94 114.52 500.63C119.07 499.31 123.61 498.01 128.15 496.72C132.7 495.43 137.24 494.16 141.78 492.91C146.33 491.65 150.87 490.41 155.42 489.18C159.96 487.95 164.5 486.74 169.05 485.54C173.59 484.35 178.13 483.19 182.68 482.03C187.22 480.88 191.76 479.74 196.31 478.63C200.85 477.52 205.39 476.44 209.94 475.39C214.48 474.33 219.03 473.3 223.57 472.31C228.11 471.31 232.66 470.34 237.2 469.4C241.74 468.47 246.29 467.57 250.83 466.7C255.37 465.83 259.92 465 264.46 464.19C269.01 463.39 273.55 462.62 278.09 461.88C282.64 461.14 287.18 460.42 291.72 459.75C296.27 459.08 300.81 458.44 305.35 457.83C309.9 457.23 314.44 456.65 318.98 456.11C323.53 455.58 328.07 455.08 332.62 454.63C337.16 454.17 341.7 453.75 346.25 453.37C350.79 453 355.33 452.66 359.88 452.37C364.42 452.08 368.99 451.82 373.51 451.62C378.03 451.41 384.75 451.21 387 451.13" fill="none" stroke="#111" stroke-width="2" stroke-linecap="butt"/></g>
<g transform="scale(1.3 1)"><path d="M60 520.9C62.27 520.23 69.09 518.16 73.63 516.84C78.17 515.52 82.72 514.24 87.26 512.99C91.81 511.73 96.35 510.51 100.89 509.31C105.44 508.12 109.98 506.96 114.52 505.82C119.07 504.68 123.61 503.58 128.15 502.49C132.7 501.4 137.24 500.33 141.78 499.28C146.33 498.23 150.87 497.2 155.42 496.18C159.96 495.17 164.5 494.18 169.05 493.19C173.59 492.21 178.13 491.23 182.68 490.27C187.22 489.32 191.76 488.37 196.31 487.46C200.85 486.55 205.39 485.66 209.94 484.81C214.48 483.96 219.03 483.12 223.57 482.34C228.11 481.56 232.66 480.82 237.2 480.12C241.74 479.41 246.29 478.74 250.83 478.11C255.37 477.48 259.92 476.88 264.46 476.32C269.01 475.75 273.55 475.23 278.09 474.72C282.64 474.22 287.18 473.75 291.72 473.31C296.27 472.87 300.81 472.47 305.35 472.09C309.9 471.71 314.44 471.35 318.98 471.04C323.53 470.72 328.07 470.43 332.62 470.18C337.16 469.92 341.7 469.69 346.25 469.49C350.79 469.3 355.33 469.14 359.88 469.01C364.42 468.88 368.99 468.79 373.51 468.72C378.03 468.66 384.75 468.65 387 468.63" fill="none" stroke="#111" stroke-width="2" stroke-linecap="butt"/></g>
<text transform="translate(505.97 427) scale(0.9488 1)" font-size="14" font-weight="bold">A</text>
<text transform="translate(505.32 455.4) scale(1.0422 1)" font-size="14" font-weight="bold">B</text>
<text transform="translate(505.76 473.9) scale(0.9706 1)" font-size="14" font-weight="bold">C</text>
<line x1="77.9" y1="405.3" x2="77.9" y2="550.6" stroke="#111" stroke-width="2"/>
<line x1="521.1" y1="405.3" x2="521.1" y2="550.6" stroke="#111" stroke-width="2"/>
<line x1="78" y1="406.2" x2="521" y2="406.2" stroke="#111" stroke-width="1.9"/>
<line x1="78" y1="549.6" x2="521" y2="549.6" stroke="#111" stroke-width="2"/>
<line x1="74.7" y1="549.6" x2="78" y2="549.6" stroke="#111" stroke-width="1"/>
<text transform="translate(59.92 553.1) scale(1.0300 1)" font-size="13.5" font-weight="normal">0</text>
<line x1="74.7" y1="513.75" x2="78" y2="513.75" stroke="#111" stroke-width="1"/>
<text transform="translate(56 517.25) scale(1.0300 1)" font-size="13.5" font-weight="normal">20</text>
<line x1="74.7" y1="477.9" x2="78" y2="477.9" stroke="#111" stroke-width="1"/>
<text transform="translate(56.19 481.4) scale(1.0300 1)" font-size="13.5" font-weight="normal">40</text>
<line x1="74.7" y1="442.05" x2="78" y2="442.05" stroke="#111" stroke-width="1"/>
<text transform="translate(56 445.55) scale(1.0300 1)" font-size="13.5" font-weight="normal">60</text>
<line x1="74.7" y1="406.2" x2="78" y2="406.2" stroke="#111" stroke-width="1"/>
<text transform="translate(56.05 409.7) scale(1.0300 1)" font-size="13.5" font-weight="normal">80</text>
<text transform="translate(48.8 489.54) rotate(-90) scale(0.9624 1)" font-size="16" font-weight="bold">P</text>
<text transform="translate(48.9 476.5) rotate(-90) scale(1.1175 1)" font-size="13.3" font-weight="normal">kW</text>
<line x1="521" y1="549.6" x2="527" y2="549.6" stroke="#111" stroke-width="1"/>
<line x1="521" y1="536.42" x2="527" y2="536.42" stroke="#111" stroke-width="1"/>
<line x1="521" y1="523.23" x2="527" y2="523.23" stroke="#111" stroke-width="1"/>
<line x1="521" y1="510.05" x2="527" y2="510.05" stroke="#111" stroke-width="1"/>
<line x1="521" y1="496.86" x2="527" y2="496.86" stroke="#111" stroke-width="1"/>
<line x1="521" y1="483.68" x2="527" y2="483.68" stroke="#111" stroke-width="1"/>
<line x1="521" y1="470.5" x2="527" y2="470.5" stroke="#111" stroke-width="1"/>
<line x1="521" y1="457.31" x2="527" y2="457.31" stroke="#111" stroke-width="1"/>
<line x1="521" y1="444.13" x2="527" y2="444.13" stroke="#111" stroke-width="1"/>
<line x1="521" y1="430.95" x2="527" y2="430.95" stroke="#111" stroke-width="1"/>
<line x1="521" y1="417.76" x2="527" y2="417.76" stroke="#111" stroke-width="1"/>
<text transform="translate(531.48 553.5) scale(0.9400 1)" font-size="13.8" font-weight="normal">0</text>
<text transform="translate(530.98 487.58) scale(0.9400 1)" font-size="13.8" font-weight="normal">50</text>
<text transform="translate(529.63 421.66) scale(0.9400 1)" font-size="13.8" font-weight="normal">100</text>
<text transform="translate(564.7 489.56) rotate(-90) scale(0.9754 1)" font-size="13.2" font-weight="normal">P HP</text>
<line x1="95.72" y1="577.8" x2="95.72" y2="692.8" stroke="#1e1e1e" stroke-width="1.02"/>
<line x1="113.44" y1="577.8" x2="113.44" y2="692.8" stroke="#1e1e1e" stroke-width="1.02"/>
<line x1="131.16" y1="577.8" x2="131.16" y2="692.8" stroke="#1e1e1e" stroke-width="1.02"/>
<line x1="148.88" y1="577.8" x2="148.88" y2="692.8" stroke="#1e1e1e" stroke-width="1.02"/>
<line x1="166.6" y1="577.8" x2="166.6" y2="692.8" stroke="#1e1e1e" stroke-width="1.02"/>
<line x1="184.32" y1="577.8" x2="184.32" y2="692.8" stroke="#1e1e1e" stroke-width="1.02"/>
<line x1="202.04" y1="577.8" x2="202.04" y2="692.8" stroke="#1e1e1e" stroke-width="1.02"/>
<line x1="219.76" y1="577.8" x2="219.76" y2="692.8" stroke="#1e1e1e" stroke-width="1.02"/>
<line x1="237.48" y1="577.8" x2="237.48" y2="692.8" stroke="#1e1e1e" stroke-width="1.02"/>
<line x1="255.2" y1="577.8" x2="255.2" y2="692.8" stroke="#1e1e1e" stroke-width="1.02"/>
<line x1="272.92" y1="577.8" x2="272.92" y2="692.8" stroke="#1e1e1e" stroke-width="1.02"/>
<line x1="290.64" y1="577.8" x2="290.64" y2="692.8" stroke="#1e1e1e" stroke-width="1.02"/>
<line x1="308.36" y1="577.8" x2="308.36" y2="692.8" stroke="#1e1e1e" stroke-width="1.02"/>
<line x1="326.08" y1="577.8" x2="326.08" y2="692.8" stroke="#1e1e1e" stroke-width="1.02"/>
<line x1="343.8" y1="577.8" x2="343.8" y2="692.8" stroke="#1e1e1e" stroke-width="1.02"/>
<line x1="361.52" y1="577.8" x2="361.52" y2="692.8" stroke="#1e1e1e" stroke-width="1.02"/>
<line x1="379.24" y1="577.8" x2="379.24" y2="692.8" stroke="#1e1e1e" stroke-width="1.02"/>
<line x1="396.96" y1="577.8" x2="396.96" y2="692.8" stroke="#1e1e1e" stroke-width="1.02"/>
<line x1="414.68" y1="577.8" x2="414.68" y2="692.8" stroke="#1e1e1e" stroke-width="1.02"/>
<line x1="432.4" y1="577.8" x2="432.4" y2="692.8" stroke="#1e1e1e" stroke-width="1.02"/>
<line x1="450.12" y1="577.8" x2="450.12" y2="692.8" stroke="#1e1e1e" stroke-width="1.02"/>
<line x1="467.84" y1="577.8" x2="467.84" y2="692.8" stroke="#1e1e1e" stroke-width="1.02"/>
<line x1="485.56" y1="577.8" x2="485.56" y2="692.8" stroke="#1e1e1e" stroke-width="1.02"/>
<line x1="503.28" y1="577.8" x2="503.28" y2="692.8" stroke="#1e1e1e" stroke-width="1.02"/>
<line x1="78" y1="589.3" x2="521" y2="589.3" stroke="#1e1e1e" stroke-width="1.02"/>
<line x1="78" y1="600.8" x2="521" y2="600.8" stroke="#1e1e1e" stroke-width="1.02"/>
<line x1="78" y1="612.3" x2="521" y2="612.3" stroke="#1e1e1e" stroke-width="1.02"/>
<line x1="78" y1="623.8" x2="521" y2="623.8" stroke="#1e1e1e" stroke-width="1.02"/>
<line x1="78" y1="635.3" x2="521" y2="635.3" stroke="#1e1e1e" stroke-width="1.02"/>
<line x1="78" y1="646.8" x2="521" y2="646.8" stroke="#1e1e1e" stroke-width="1.02"/>
<line x1="78" y1="658.3" x2="521" y2="658.3" stroke="#1e1e1e" stroke-width="1.02"/>
<line x1="78" y1="669.8" x2="521" y2="669.8" stroke="#1e1e1e" stroke-width="1.02"/>
<line x1="78" y1="681.3" x2="521" y2="681.3" stroke="#1e1e1e" stroke-width="1.02"/>
<g transform="scale(1.4 1)"><path d="M188.99 668.64C189.99 668.5 191.84 668.27 194.94 667.79C198.04 667.3 203.38 666.48 207.6 665.73C211.82 664.98 216.04 664.17 220.26 663.29C224.48 662.41 228.7 661.47 232.91 660.46C237.13 659.45 241.35 658.39 245.57 657.24C249.79 656.1 254.01 654.88 258.23 653.6C262.45 652.31 266.67 650.95 270.89 649.51C275.1 648.07 279.32 646.58 283.54 644.96C287.76 643.34 291.98 641.64 296.2 639.78C300.42 637.93 304.64 635.96 308.86 633.8C313.08 631.65 317.3 629.36 321.51 626.85C325.73 624.34 329.95 621.66 334.17 618.74C338.39 615.82 342.63 612.7 346.83 609.31C351.03 605.92 357.27 600.2 359.36 598.37" fill="none" stroke="#111" stroke-width="2.2" stroke-linecap="butt"/></g>
<line x1="77.9" y1="576.9" x2="77.9" y2="693.8" stroke="#111" stroke-width="2"/>
<line x1="521.1" y1="576.9" x2="521.1" y2="693.8" stroke="#111" stroke-width="2"/>
<line x1="78" y1="577.8" x2="521" y2="577.8" stroke="#111" stroke-width="1.9"/>
<line x1="78" y1="692.8" x2="521" y2="692.8" stroke="#111" stroke-width="2"/>
<line x1="74.7" y1="692.8" x2="78" y2="692.8" stroke="#111" stroke-width="1"/>
<text transform="translate(60.22 696.4) scale(1.0300 1)" font-size="13.5" font-weight="normal">0</text>
<line x1="74.7" y1="635.3" x2="78" y2="635.3" stroke="#111" stroke-width="1"/>
<text transform="translate(60.24 638.9) scale(1.0300 1)" font-size="13.5" font-weight="normal">5</text>
<line x1="74.7" y1="577.8" x2="78" y2="577.8" stroke="#111" stroke-width="1"/>
<text transform="translate(56.12 581.4) scale(1.0300 1)" font-size="13.5" font-weight="normal">10</text>
<text transform="translate(48.8 652.31) rotate(-90) scale(1.0241 1)" font-size="16" font-weight="bold">NPSH</text>
<text transform="translate(48.8 602.38) rotate(-90) scale(0.9630 1)" font-size="13.5" font-weight="normal">m</text>
<line x1="521" y1="692.8" x2="527" y2="692.8" stroke="#111" stroke-width="1"/>
<line x1="521" y1="684.04" x2="524" y2="684.04" stroke="#111" stroke-width="1"/>
<line x1="521" y1="675.27" x2="527" y2="675.27" stroke="#111" stroke-width="1"/>
<line x1="521" y1="666.51" x2="524" y2="666.51" stroke="#111" stroke-width="1"/>
<line x1="521" y1="657.75" x2="527" y2="657.75" stroke="#111" stroke-width="1"/>
<line x1="521" y1="648.98" x2="524" y2="648.98" stroke="#111" stroke-width="1"/>
<line x1="521" y1="640.22" x2="527" y2="640.22" stroke="#111" stroke-width="1"/>
<line x1="521" y1="631.46" x2="524" y2="631.46" stroke="#111" stroke-width="1"/>
<line x1="521" y1="622.7" x2="527" y2="622.7" stroke="#111" stroke-width="1"/>
<line x1="521" y1="613.93" x2="524" y2="613.93" stroke="#111" stroke-width="1"/>
<line x1="521" y1="605.17" x2="527" y2="605.17" stroke="#111" stroke-width="1"/>
<line x1="521" y1="596.41" x2="524" y2="596.41" stroke="#111" stroke-width="1"/>
<line x1="521" y1="587.64" x2="527" y2="587.64" stroke="#111" stroke-width="1"/>
<line x1="521" y1="578.88" x2="524" y2="578.88" stroke="#111" stroke-width="1"/>
<text x="532.84" y="697.3" font-size="13.5" font-weight="normal">0</text>
<text x="528.85" y="662.25" font-size="13.5" font-weight="normal">10</text>
<text x="529.02" y="627.2" font-size="13.5" font-weight="normal">20</text>
<text x="529.11" y="592.14" font-size="13.5" font-weight="normal">30</text>
<text transform="translate(564.8 656.74) rotate(-90) scale(1.0431 1)" font-size="13.2" font-weight="normal">NPSH ft</text>
<line x1="78" y1="692.8" x2="78" y2="695.8" stroke="#111" stroke-width="1"/>
<text x="72.94" y="708.5" font-size="13.5" font-weight="normal">0</text>
<line x1="166.6" y1="692.8" x2="166.6" y2="695.8" stroke="#111" stroke-width="1"/>
<text x="157.39" y="708.5" font-size="13.5" font-weight="normal">100</text>
<line x1="255.2" y1="692.8" x2="255.2" y2="695.8" stroke="#111" stroke-width="1"/>
<text x="245.86" y="708.5" font-size="13.5" font-weight="normal">200</text>
<line x1="343.8" y1="692.8" x2="343.8" y2="695.8" stroke="#111" stroke-width="1"/>
<text x="334.04" y="708.5" font-size="13.5" font-weight="normal">300</text>
<line x1="432.4" y1="692.8" x2="432.4" y2="695.8" stroke="#111" stroke-width="1"/>
<text x="423.05" y="708.5" font-size="13.5" font-weight="normal">400</text>
<line x1="521" y1="692.8" x2="521" y2="695.8" stroke="#111" stroke-width="1"/>
<text x="511.23" y="708.5" font-size="13.5" font-weight="normal">500</text>
<text transform="translate(85.23 710.9) scale(1.1223 1)" font-size="15" font-weight="bold">Q</text>
<text x="101.79" y="712.4" font-size="13.5" font-weight="normal">m</text>
<text x="113.4" y="707.2" font-size="7.3">3</text>
<text x="117.6" y="712.4" font-size="13.5" font-weight="normal">/h</text>
<text x="479.44" y="702.2" font-size="6.9" style="stroke:none;fill:#2a2a2a" textLength="24.28" lengthAdjust="spacingAndGlyphs">72.099</text>
</svg>
</body>
</html>
